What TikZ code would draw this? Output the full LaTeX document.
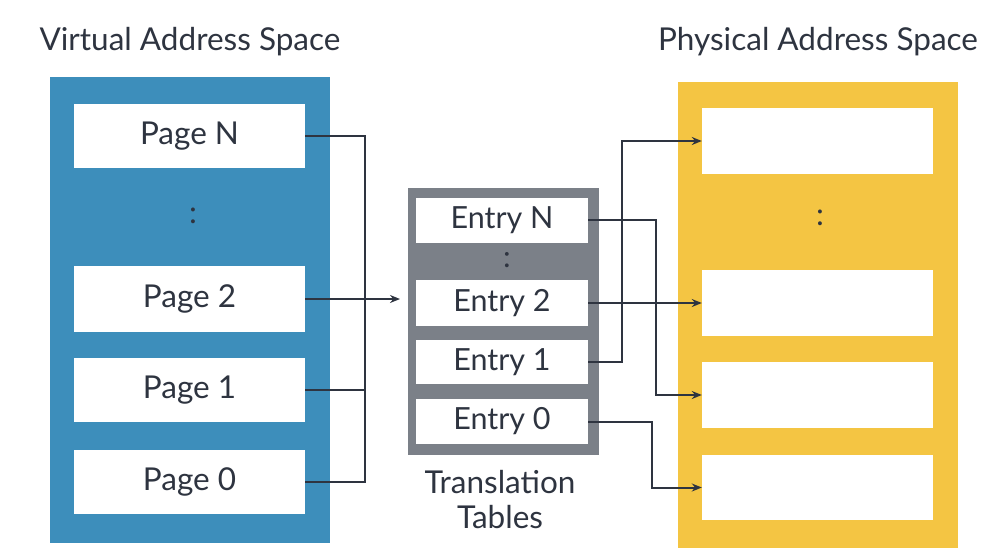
\documentclass[tikz,border=0pt]{standalone}
\usepackage{fontspec}
\setmainfont{Lato}
\usetikzlibrary{arrows.meta}
\definecolor{vblue}{HTML}{3D8EBB}
\definecolor{tgray}{HTML}{7B8088}
\definecolor{pyel}{HTML}{F4C543}
\definecolor{ink}{HTML}{2E3440}
\begin{document}
\begin{tikzpicture}[x=1pt,y=-1pt,
  txt/.style={font=\fontsize{31.5}{36}\selectfont, text=ink},
  etxt/.style={font=\fontsize{30.5}{36}\selectfont, text=ink},
  cell/.style={fill=white, draw=none},
  conn/.style={draw=ink, line width=2pt},
  arr/.style={conn, -{Stealth[length=10pt,width=8pt]}}]
\useasboundingbox (0,0) rectangle (1000,550);
% containers
\fill[vblue] (50,77) rectangle (330,543);
\fill[tgray] (408,188) rectangle (599,455);
\fill[pyel] (678,82) rectangle (958,548);
% titles
\node[txt] (vt) at (190,42) {Virtual Address Space};
\node[txt] (pt) at (818,42) {Physical Address Space};
% virtual pages
\node[cell, minimum width=231pt, minimum height=64pt, txt] (pN) at (189.5,136) {Page N};
\node[txt] (vdots) at (193,216) {:};
\node[cell, minimum width=231pt, minimum height=66pt, txt] (p2) at (189.5,299) {Page 2};
\node[cell, minimum width=231pt, minimum height=64pt, txt] (p1) at (189.5,390) {Page 1};
\node[cell, minimum width=231pt, minimum height=64pt, txt] (p0) at (189.5,482) {Page 0};
% entries
\node[cell, minimum width=172pt, minimum height=45pt, etxt] (eN) at (502,220) {Entry N};
\node[etxt] (edots) at (507,260) {:};
\node[cell, minimum width=172pt, minimum height=46pt, etxt] (e2) at (502,303) {Entry 2};
\node[cell, minimum width=172pt, minimum height=44pt, etxt] (e1) at (502,362) {Entry 1};
\node[cell, minimum width=172pt, minimum height=45pt, etxt] (e0) at (502,421.5) {Entry 0};
\node[txt, align=center, font=\fontsize{31.5}{35}\selectfont] (tt) at (500,500) {Translation\\Tables};
% physical frames
\node[cell, minimum width=231pt, minimum height=66pt] (f3) at (817.5,141) {};
\node[txt] (pdots) at (820,218) {:};
\node[cell, minimum width=231pt, minimum height=66pt] (f2) at (817.5,303) {};
\node[cell, minimum width=231pt, minimum height=66pt] (f1) at (817.5,395) {};
\node[cell, minimum width=231pt, minimum height=65pt] (f0) at (817.5,487.5) {};
% virtual -> table
\coordinate (bx) at (365,0);
\draw[conn] (pN.east) -- (pN.east -| bx) -- (p0.east -| bx) -- (p0.east);
\draw[conn] (p1.east) -- (p1.east -| bx);
\draw[arr] (p2.east) -- (400,299 |- p2.east);
% table -> physical
\draw[arr] (eN.east) -- (656,220) -- (656,395) -- (f1.west);
\draw[arr] (e2.east) -- (f2.west |- e2.east);
\draw[arr] (e1.east) -- (622,362) -- (622,141) -- (f3.west);
\draw[arr] (e0.east) -- (652,421.5) -- (652,487.5) -- (f0.west);
\end{tikzpicture}
\end{document}
